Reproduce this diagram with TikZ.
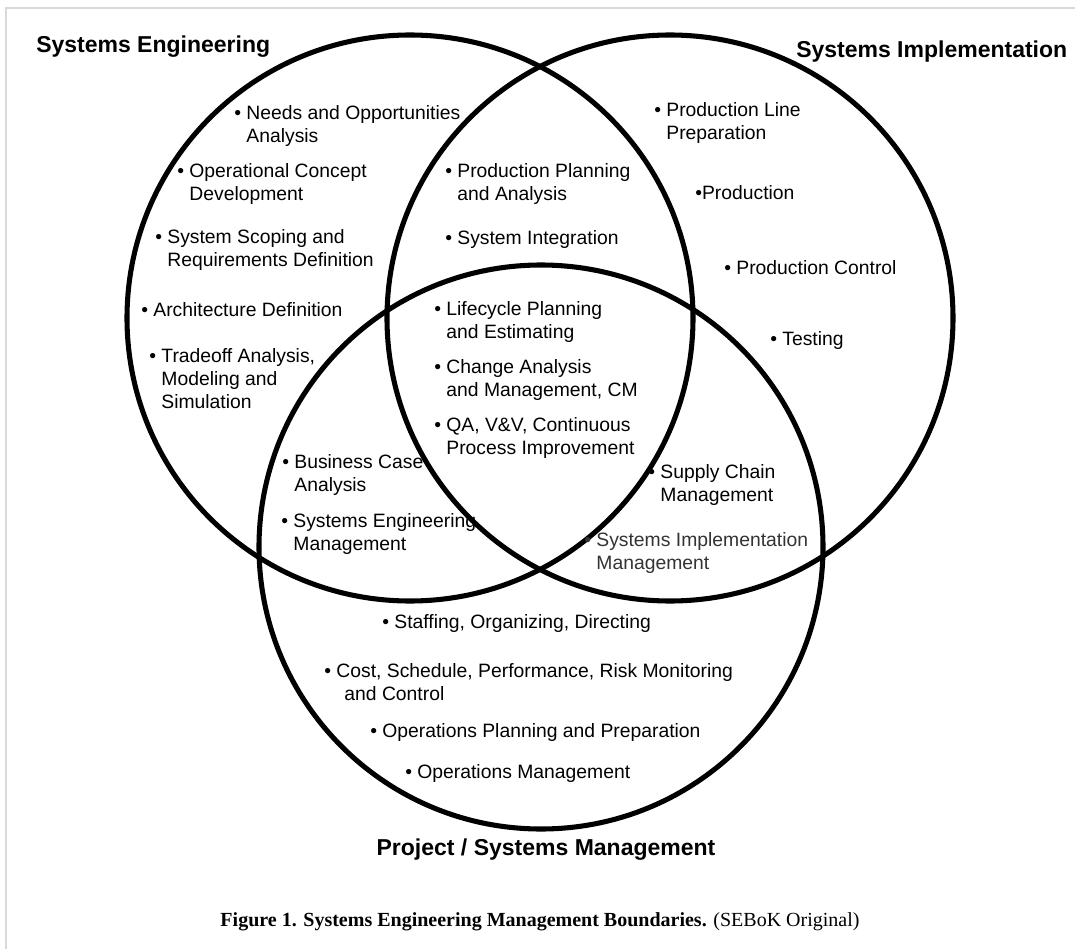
\documentclass[tikz,border=0pt]{standalone}
\usepackage{fontspec}
\setmainfont{Liberation Serif}
\setsansfont{Liberation Sans}
\usepackage{tikz}
\usetikzlibrary{positioning}

\tikzset{
  ring/.style={line width=3.8pt},
  item/.style={anchor=west, inner sep=0pt, align=left,
    font=\sffamily\fontsize{14.5}{17.25}\selectfont},
  heading/.style={inner sep=0pt, font=\sffamily\bfseries\fontsize{17.25}{20}\selectfont},
}
\newcommand{\bul}{\textbullet\ }
\newcommand{\ind}{\phantom{\textbullet\ }}

\begin{document}
\begin{tikzpicture}[x=0.75pt, y=-0.75pt]
  \useasboundingbox (0,0) rectangle (1075,949);
  \draw[gray!30, line width=0.9pt] (6,949) -- (6,8) -- (1075,8);
  % the three sets
  \coordinate (se) at (410,318);
  \coordinate (si) at (670,318);
  \coordinate (pm) at (541,547);
  \draw[ring] (se) circle (283);
  \draw[ring] (si) circle (283);
  \draw[ring] (pm) circle (282);
  \node[heading, anchor=west] (setitle) at (36,47) {Systems Engineering};
  \node[heading, anchor=west] (sititle) at (796,52) {Systems Implementation};
  \node[heading] (pmtitle) at (546,850) {Project / Systems Management};
  % systems engineering only
  \node[item] (needs) at (234,126.5) {\bul Needs and Opportunities\\\ind Analysis};
  \node[item] (opscon) at (177,184.5) {\bul Operational Concept\\\ind Development};
  \node[item] (scoping) at (155,250.5) {\bul System Scoping and\\\ind Requirements Definition};
  \node[item] (arch) at (141,310) {\bul Architecture Definition};
  \node[item] (trade) at (149,379) {\bul Tradeoff Analysis,\\\ind Modeling and\\\ind Simulation};
  % engineering and implementation
  \node[item] (prodplan) at (445,184.5) {\bul Production Planning\\\ind and Analysis};
  \node[item] (integ) at (445,239) {\bul System Integration};
  % all three
  \node[item] (lifecycle) at (434,321.5) {\bul Lifecycle Planning\\\ind and Estimating};
  \node[item] (change) at (434,379.5) {\bul Change Analysis\\\ind and Management, CM};
  \node[item] (qa) at (434,438) {\bul QA, V\&V, Continuous\\\ind Process Improvement};
  % implementation only
  \node[item] (prodline) at (654,123.5) {\bul Production Line\\\ind Preparation};
  \node[item] (prod) at (695,193) {\textbullet Production};
  \node[item] (prodctl) at (724,268) {\bul Production Control};
  \node[item] (testing) at (770,340) {\bul Testing};
  % engineering and management
  \node[item] (bizcase) at (282,475) {\bul Business Case\\\ind Analysis};
  \node[item] (semgmt) at (281,533.5) {\bul Systems Engineering\\\ind Management};
  % implementation and management
  \node[item] (supply) at (648,484.5) {\bul Supply Chain\\\ind Management};
  \node[item, text=black!80] (simgmt) at (584,553) {\bul Systems Implementation\\\ind Management};
  % management only
  \node[item] (staffing) at (382,623) {\bul Staffing, Organizing, Directing};
  \node[item] (cost) at (324,682) {\bul Cost, Schedule, Performance, Risk Monitoring\\\ind\hspace{6pt}and Control};
  \node[item] (opsplan) at (370,732) {\bul Operations Planning and Preparation};
  \node[item] (opsmgmt) at (405,773) {\bul Operations Management};
  \node (caption) at (540,922) {\fontsize{15}{18}\selectfont\textbf{Figure 1. Systems Engineering Management Boundaries.} (SEBoK Original)};
\end{tikzpicture}
\end{document}
